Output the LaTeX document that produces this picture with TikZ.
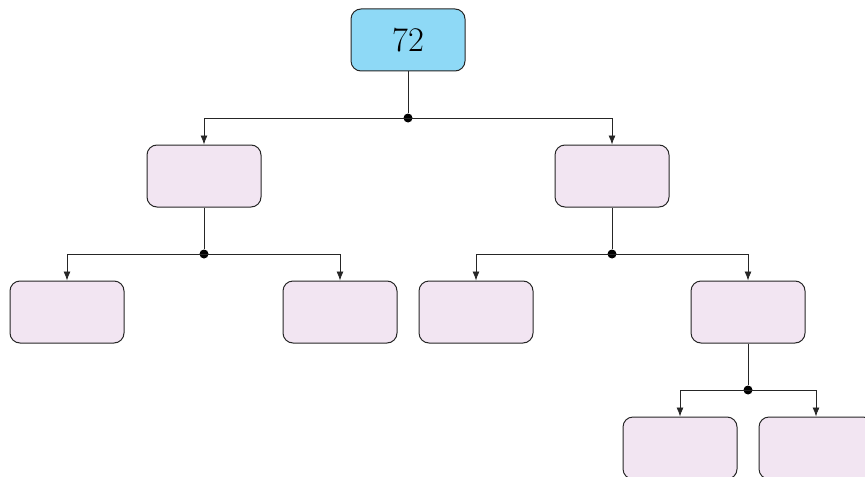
\documentclass[tikz,border=0pt]{standalone}
\usepackage{tikz}
\usetikzlibrary{arrows.meta}
\definecolor{rootblue}{RGB}{142,217,246}

\begin{document}
\begin{tikzpicture}[
  x=0.5pt, y=-0.5pt,
  box/.style={draw=black!85, line width=0.5pt, rounded corners=5pt, minimum width=57pt,
              minimum height=31pt, fill=violet!10, font=\LARGE},
  joint/.style={circle, fill=black, inner sep=0pt, minimum size=4.5pt},
  link/.style={draw=black!85, -{Latex[length=4.5pt,width=3.5pt]}}
]
\useasboundingbox (0,0) rectangle (865,476);
% tree nodes
\node[box, fill=rootblue] (root) at (408,40) {72};
\node[box] (l) at (204,176) {};
\node[box] (r) at (612,176) {};
\node[box] (ll) at (67,312) {};
\node[box] (lr) at (340,312) {};
\node[box] (rl) at (476,312) {};
\node[box] (rr) at (748,312) {};
\node[box] (rrl) at (680,448) {};
\node[box] (rrr) at (816,448) {};
% junctions
\node[joint] (j0) at (408,118) {};
\node[joint] (j1) at (204,254) {};
\node[joint] (j2) at (612,254) {};
\node[joint] (j3) at (748,390) {};
\draw[draw=black!85] (root) -- (j0) (l) -- (j1) (r) -- (j2) (rr) -- (j3);
\path[link] (j0.center) -| (l.north);
\path[link] (j0.center) -| (r.north);
\path[link] (j1.center) -| (ll.north);
\path[link] (j1.center) -| (lr.north);
\path[link] (j2.center) -| (rl.north);
\path[link] (j2.center) -| (rr.north);
\path[link] (j3.center) -| (rrl.north);
\path[link] (j3.center) -| (rrr.north);
\end{tikzpicture}
\end{document}
